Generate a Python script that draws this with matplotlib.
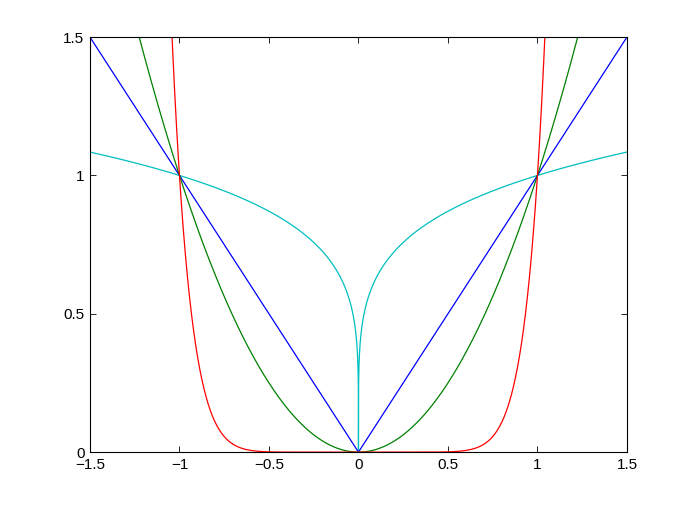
import numpy as np
import matplotlib
matplotlib.use("Agg")
import matplotlib.pyplot as plt

# exponents p of the curves y = |x|^p and their colours
exponents = [0.2, 1, 2, 10]
colors = [(0, 0.75, 0.75), (0, 0, 1), (0, 0.5, 0), (1, 0, 0)]
x_ticks = [-1.5, -1, -0.5, 0, 0.5, 1, 1.5]
x_labels = ["\u22121.5", "\u22121", "\u22120.5", "0", "0.5", "1", "1.5"]
y_ticks = [0, 0.5, 1, 1.5]
y_labels = ["0", "0.5", "1", "1.5"]

plt.rcParams['font.family'] = ['Liberation Sans', 'DejaVu Sans']

fig = plt.figure(figsize=(6.92, 5.08), dpi=100)
ax = fig.add_axes([0.13, 0.11, 0.776, 0.817])

x = np.concatenate([np.linspace(-1.5, 0, 3001), np.linspace(0, 1.5, 3001)[1:]])
for p, c in zip(exponents, colors):
    ax.plot(x, np.abs(x) ** p, color=c, linewidth=0.9, clip_on=True)

ax.set_xlim(-1.5, 1.5)
ax.set_ylim(0, 1.5)
ax.set_xticks(x_ticks)
ax.set_xticklabels(x_labels)
ax.set_yticks(y_ticks)
ax.set_yticklabels(y_labels)
ax.tick_params(direction='in', top=True, right=True, length=4, width=0.6,
               labelsize=11, pad=4)
for s in ax.spines.values():
    s.set_linewidth(0.8)
    s.set_color('black')

fig.savefig("out.png", dpi=100)
